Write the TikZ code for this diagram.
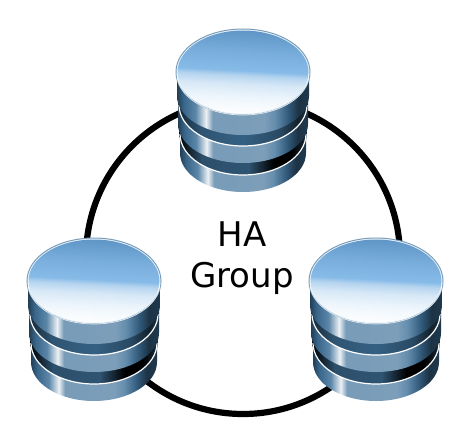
\documentclass[tikz,border=0pt]{standalone}
\usepackage{fontspec}
\setmainfont{DejaVu Sans}
\definecolor{rimdark}{HTML}{3F7199}
\definecolor{rimlight}{HTML}{EEF6FC}
\definecolor{faceA}{HTML}{5E95C6}
\definecolor{faceB}{HTML}{86BAE7}
\definecolor{faceC}{HTML}{B5D4EF}
\pgfdeclarehorizontalshading{dbbody}{100bp}{
 color(0bp)=(rimdark!55!black);
 color(25bp)=(rimdark!55!black);
 color(27.5bp)=(rimdark!90!black);
 color(32bp)=(rimdark!85!white);
 color(36bp)=(white!90!rimdark);
 color(38.5bp)=(rimdark!70!white);
 color(43bp)=(rimdark!70!white);
 color(58bp)=(rimdark!68!white);
 color(62bp)=(rimdark!80!white);
 color(67bp)=(rimdark!80!black);
 color(71bp)=(rimdark!45!black);
 color(75bp)=(rimdark!50!black);
 color(100bp)=(rimdark!50!black)}
\pgfdeclarehorizontalshading{dbgapa}{100bp}{
 color(0bp)=(rimdark!35!black);
 color(25bp)=(rimdark!35!black);
 color(34bp)=(rimdark!75!black);
 color(50bp)=(rimdark!85!black);
 color(64bp)=(rimdark!65!black);
 color(71bp)=(rimdark!30!black);
 color(75bp)=(rimdark!40!black);
 color(100bp)=(rimdark!40!black)}
\pgfdeclarehorizontalshading{dbgapb}{100bp}{
 color(0bp)=(black);
 color(25bp)=(black);
 color(34bp)=(rimdark!70!black);
 color(52bp)=(rimdark!75!black);
 color(62bp)=(black);
 color(69bp)=(black);
 color(75bp)=(rimdark!40!black);
 color(100bp)=(rimdark!40!black)}
\pgfdeclareverticalshading{dbface}{100bp}{
 color(0bp)=(white);
 color(25bp)=(white);
 color(35bp)=(rimlight);
 color(43bp)=(faceC!55!white);
 color(48bp)=(faceC);
 color(51bp)=(faceB);
 color(61bp)=(faceB!70!faceA);
 color(75bp)=(faceA);
 color(100bp)=(faceA)}
\tikzset{
 ringline/.style={circle,draw=black,line width=6.2pt,minimum size=314pt,inner sep=0pt,fill=none},
 grouplabel/.style={align=center,font=\fontsize{34}{41}\selectfont,inner sep=0pt},
 pics/dbstack/.style={code={
  % bottom disk
  \path[shading=dbbody] (-63,60) -- (-63,81) arc[start angle=180,end angle=0,x radius=63,y radius=39] -- (63,60) -- cycle;
  \path[shading=dbgapb] (0,60) ellipse[x radius=64,y radius=43];
  \draw[white,line width=1.2pt] (-63,62) arc[start angle=180,end angle=0,x radius=63,y radius=41];
  % middle disk
  \path[shading=dbbody] (-65,31) -- (-65,52) arc[start angle=180,end angle=0,x radius=65,y radius=39] -- (65,31) -- cycle;
  \path[shading=dbgapa] (0,31) ellipse[x radius=65,y radius=43];
  \draw[white,line width=1.2pt] (-64,33) arc[start angle=180,end angle=0,x radius=64,y radius=41];
  % top disk
  \path[shading=dbbody] (-66,0) -- (-66,24) arc[start angle=180,end angle=0,x radius=66,y radius=39] -- (66,0) -- cycle;
  % face
  \draw[line width=1pt,draw=rimdark!70!white,fill=rimlight] (0,0) ellipse[x radius=67,y radius=43];
  \path[shading=dbface,shading angle=-3] (0,0) ellipse[x radius=65.5,y radius=41.5];
  \draw[white,line width=.7pt,opacity=.8] (-66,2) arc[start angle=180,end angle=0,x radius=66,y radius=41];
 }}
}
\begin{document}
\begin{tikzpicture}[x=1pt,y=-1pt]
\useasboundingbox (0,0) rectangle (471,444);
\fill[white] (0,0) rectangle (471,444);
\node[ringline] (ring) at (243,257) {};
\node[grouplabel] (label) at (242,258) {HA\\Group};
\pic at (243,72) {dbstack};
\pic at (94,281) {dbstack};
\pic at (376,281) {dbstack};
\end{tikzpicture}
\end{document}
